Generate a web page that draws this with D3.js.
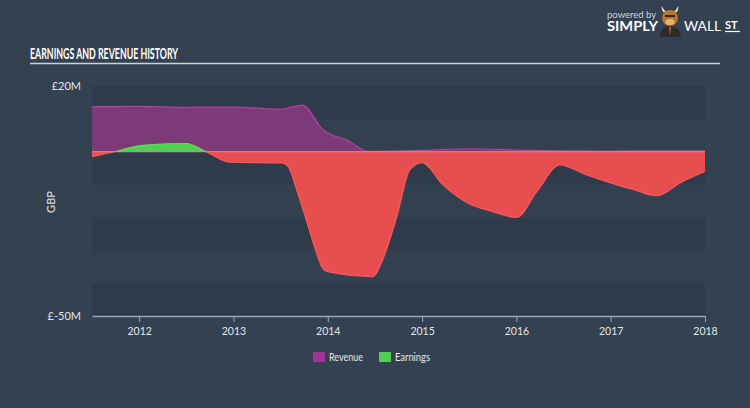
<!DOCTYPE html>
<html><head><meta charset="utf-8">
<script src="https://cdnjs.cloudflare.com/ajax/libs/d3/7.8.5/d3.min.js"></script>
<style>
html,body{margin:0;padding:0;background:#344150;}
svg{display:block;}
text{font-family:Lato,"Open Sans",sans-serif;}
</style></head>
<body>
<svg id="c" width="750" height="408"></svg>
<script>
// ---- data (GBP millions) ----
const revYears = [2011.5, 2012.0, 2012.5, 2013.0, 2013.5, 2013.73, 2013.95, 2014.05, 2014.2, 2014.3, 2014.42, 2015.0, 2015.5, 2016.0, 2016.5, 2017.0, 2017.5, 2018.0];
const revValues = [13.7, 13.8, 13.5, 13.6, 12.9, 14.2, 6.7, 5.0, 3.6, 1.8, 0.1, 0.4, 0.9, 0.5, 0.3, 0.2, 0.3, 0.3];
const earnYears = [2011.5, 2011.74, 2012.0, 2012.1, 2012.5, 2012.71, 2012.96, 2013.52, 2013.58, 2013.67, 2013.78, 2013.88, 2013.96, 2014.09, 2014.48, 2014.58, 2014.73, 2014.87, 2015.0, 2015.22, 2015.51, 2015.72, 2016.0, 2016.22, 2016.46, 2016.74, 2016.99, 2017.24, 2017.49, 2017.74, 2018.0];
const earnValues = [-1.5, 0, 1.8, 2.1, 2.5, 0, -3.2, -3.4, -4.5, -11.5, -21.5, -30.7, -36, -37, -38, -33, -20, -5.5, -3.3, -10, -16, -18, -20, -12, -4, -7, -9.4, -11.5, -13.4, -9.4, -6];
const yearTicks = [2012, 2013, 2014, 2015, 2016, 2017, 2018];
const yTickValues = [20, -50];
const yTickLabels = ["£20M", "£-50M"];
const legendLabels = ["Revenue", "Earnings"];

const svg = d3.select("#c");
const W = 750, H = 408;
const L = 92, R = 705, T = 86, B = 316;

svg.append("rect").attr("width", W).attr("height", H).attr("fill", "#344150");

const x = d3.scaleLinear().domain([2011.5, 2018]).range([L, R]);
const y = d3.scaleLinear().domain([-50, 20]).range([B, T]);

// bands
const bands = d3.range(20, -50, -10);
svg.append("g").selectAll("rect").data(bands).join("rect")
  .attr("x", L).attr("width", R - L)
  .attr("y", d => y(d)).attr("height", d => y(d - 10) - y(d))
  .attr("fill", (d, i) => i % 2 === 0 ? "#2f3b4a" : "#334050");

// title
svg.append("text").text("EARNINGS AND REVENUE HISTORY")
  .attr("x", 30).attr("y", 58.5)
  .attr("fill", "#ffffff")
  .attr("font-family", "'Liberation Sans Narrow','DejaVu Sans Condensed',sans-serif")
  .attr("font-weight", "bold").attr("font-size", 16)
  .attr("textLength", 148).attr("lengthAdjust", "spacingAndGlyphs");
svg.append("line").attr("x1", 30).attr("x2", 720).attr("y1", 63.5).attr("y2", 63.5)
  .attr("stroke", "#c9d0d8").attr("stroke-width", 1.5);

// logo
const logo = svg.append("g");
logo.append("text").text("powered by").attr("x", 607).attr("y", 18)
  .attr("fill", "#d0d4d9").attr("font-size", 9.5);
logo.append("text").text("SIMPLY").attr("x", 607).attr("y", 31)
  .attr("fill", "#ffffff").attr("font-weight", "bold").attr("font-size", 12.5)
  .attr("textLength", 51).attr("lengthAdjust", "spacingAndGlyphs");
logo.append("text").text("WALL").attr("x", 684).attr("y", 31)
  .attr("fill", "#ffffff").attr("font-size", 12.5)
  .attr("textLength", 37).attr("lengthAdjust", "spacingAndGlyphs");
logo.append("text").text("ST").attr("x", 725).attr("y", 29)
  .attr("fill", "#ffffff").attr("font-weight", "bold").attr("font-size", 11);
logo.append("line").attr("x1", 725).attr("x2", 740).attr("y1", 31.5).attr("y2", 31.5)
  .attr("stroke", "#fff").attr("stroke-width", 1.2);
// bull
logo.append("path").attr("d", "M660,37 Q660,27 670,26 Q680,27 681,37 Z").attr("fill", "#2b2b2b");
logo.append("path").attr("d", "M669,27 L671,27 L670,36 Z").attr("fill", "#e05a2a");
logo.append("path").attr("d", "M663,12 Q661,8 662,6 Q664,11 667,12 Z").attr("fill", "#e9d9b9");
logo.append("path").attr("d", "M677,12 Q679,8 678,6 Q676,11 673,12 Z").attr("fill", "#e9d9b9");
logo.append("ellipse").attr("cx", 670).attr("cy", 18).attr("rx", 8).attr("ry", 8).attr("fill", "#b7772e");
logo.append("ellipse").attr("cx", 670).attr("cy", 22).attr("rx", 4.5).attr("ry", 3).attr("fill", "#e1b57a");
logo.append("rect").attr("x", 665).attr("y", 15).attr("width", 10).attr("height", 2).attr("fill", "#3b2a1a");

// y labels
svg.append("g").selectAll("text").data(yTickValues).join("text")
  .attr("x", 81).attr("y", d => y(d) + 4)
  .attr("text-anchor", "end").attr("fill", "#e3e6ea").attr("font-size", 11)
  .text((d, i) => yTickLabels[i]);
svg.append("text").text("GBP")
  .attr("transform", "translate(55,202) rotate(-90)")
  .attr("text-anchor", "middle").attr("fill", "#e3e6ea").attr("font-size", 11);

// revenue area
const revData = revYears.map((t, i) => ({t, v: revValues[i]}));
const earnData = earnYears.map((t, i) => ({t, v: earnValues[i]}));
const curve = d3.curveMonotoneX;

const revArea = d3.area().x(d => x(d.t)).y0(y(0)).y1(d => y(d.v)).curve(curve);
const revLine = d3.line().x(d => x(d.t)).y(d => y(d.v)).curve(curve);
svg.append("path").datum(revData).attr("d", revArea).attr("fill", "#7c3a78");
svg.append("path").datum(revData).attr("d", revLine).attr("fill", "none")
  .attr("stroke", "#b3419f").attr("stroke-width", 1.2);

// earnings with sign clipping
const defs = svg.append("defs");
defs.append("clipPath").attr("id", "pos").append("rect")
  .attr("x", L).attr("y", T - 5).attr("width", R - L).attr("height", y(0) - T + 5);
defs.append("clipPath").attr("id", "neg").append("rect")
  .attr("x", L).attr("y", y(0)).attr("width", R - L).attr("height", B - y(0));
const earnArea = d3.area().x(d => x(d.t)).y0(y(0)).y1(d => y(d.v)).curve(curve);
const earnLine = d3.line().x(d => x(d.t)).y(d => y(d.v)).curve(curve);
svg.append("path").datum(earnData).attr("d", earnArea).attr("fill", "#4fd14f").attr("clip-path", "url(#pos)");
svg.append("path").datum(earnData).attr("d", earnArea).attr("fill", "#e84e50").attr("clip-path", "url(#neg)");
svg.append("path").datum(earnData).attr("d", earnLine).attr("fill", "none")
  .attr("stroke", "#ff5757").attr("stroke-width", 1.2).attr("clip-path", "url(#neg)");
svg.append("path").datum(earnData).attr("d", earnLine).attr("fill", "none")
  .attr("stroke", "#5be05b").attr("stroke-width", 1.2).attr("clip-path", "url(#pos)");

// zero line
svg.append("line").attr("x1", L).attr("x2", R).attr("y1", y(0)).attr("y2", y(0))
  .attr("stroke", "#dd8a95").attr("stroke-width", 1);

// x axis
const xAxis = d3.axisBottom(x).tickValues(yearTicks).tickFormat(d3.format("d")).tickSize(6).tickSizeOuter(0);
const gx = svg.append("g").attr("transform", `translate(0,${B})`).call(xAxis);
gx.select(".domain").attr("stroke", "#9aa8b6").attr("stroke-width", 1.5);
gx.selectAll(".tick line").attr("stroke", "#9aa8b6");
gx.selectAll(".tick text").attr("fill", "#e3e6ea").attr("font-size", 10.5)
  .attr("font-family", "Lato,'Open Sans',sans-serif").attr("dy", "0.95em");

// legend
const legColors = ["#a0359a", "#4fd14f"];
const legX = [313, 379];
const legW = [34, 35];
const lg = svg.append("g");
legendLabels.forEach((lab, i) => {
  lg.append("rect").attr("x", legX[i]).attr("y", 352).attr("width", 12).attr("height", 10).attr("fill", legColors[i]);
  lg.append("text").text(lab).attr("x", legX[i] + 16).attr("y", 361)
    .attr("fill", "#e3e6ea").attr("font-size", 10.5)
    .attr("textLength", legW[i]).attr("lengthAdjust", "spacingAndGlyphs");
});
</script>
</body></html>
